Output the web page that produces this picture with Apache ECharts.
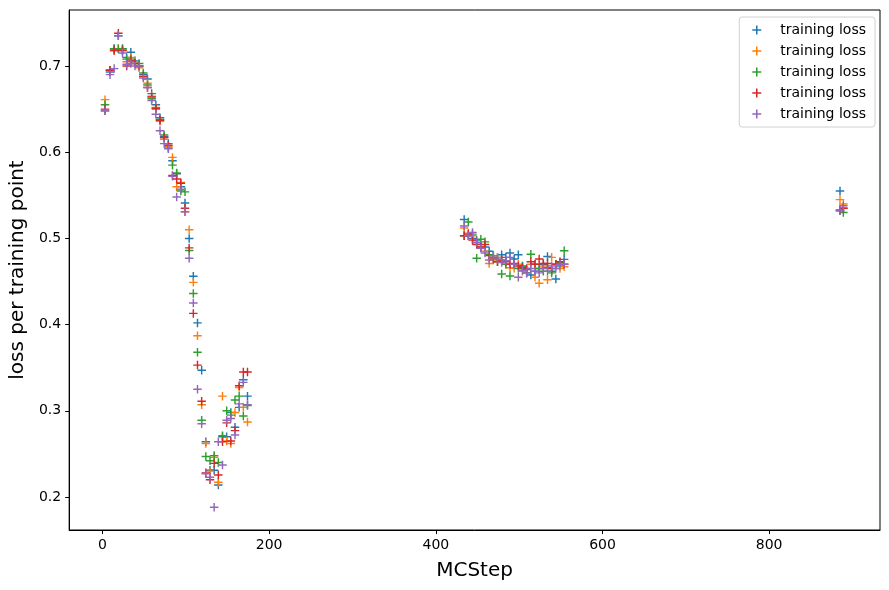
<!DOCTYPE html>
<html>
<head>
<meta charset="utf-8">
<script src="https://cdn.jsdelivr.net/npm/echarts@6/dist/echarts.min.js"></script>
<style>
  html, body { margin: 0; padding: 0; background: #fff; }
  #main { width: 889px; height: 590px; }
</style>
</head>
<body>
<div id="main"></div>
<script>
// MCStep values (three recorded stretches)
var steps = [
    3, 9, 14, 19, 24, 29, 34, 39, 44, 49, 54, 59, 64, 69, 74, 79, 84, 89, 94, 99,
    104, 109, 114, 119, 124, 129, 134, 139, 144, 149, 154, 159, 164, 169, 174,
    434, 439, 444, 449, 454, 459, 464, 469, 474, 479, 484, 489, 494, 499, 504,
    509, 514, 519, 524, 529, 534, 539, 544, 549, 554,
    885, 889
];
var lossBlue = [
    .648, .693, .72, .735, .72, .71, .716, .706, .70, .69, .685, .668, .655, .64, .618, .61, .59, .575, .56, .541,
    .50, .456, .402, .347, .264, .231, .231, .214, .27, .27, .298, .281, .304, .336, .317,
    .522, .503, .50, .498, .49, .49, .485, .48, .478, .481, .478, .483, .476, .481, .468,
    .465, .4575, .462, .465, .47, .479, .462, .453, .468, .4757,
    .555, .535
];
var lossOrange = [
    .661, .695, .718, .72, .718, .705, .71, .705, .698, .688, .68, .665, .652, .636, .615, .607, .594, .56, .565, .531,
    .51, .449, .387, .307, .262, .23, .246, .217, .317, .265, .262, .298, .327, .304, .287,
    .512, .506, .503, .495, .49, .485, .471, .475, .478, .474, .47, .466, .4653, .47, .462,
    .46, .47, .455, .448, .468, .452, .478, .47, .465, .4672,
    .545, .54
];
var lossGreen = [
    .655, .695, .72, .72, .72, .708, .708, .703, .703, .692, .678, .662, .65, .638, .62, .605, .585, .576, .555, .554,
    .486, .436, .368, .289, .247, .242, .248, .24, .271, .30, .295, .3125, .317, .294, .306,
    .503, .519, .505, .477, .499, .496, .481, .478, .473, .4587, .47, .4563, .47, .465, .467,
    .46, .4816, .47, .465, .462, .466, .46, .47, .472, .4857,
    .532, .53
];
var lossRed = [
    .65, .695, .718, .738, .718, .70, .706, .703, .70, .688, .675, .664, .651, .637, .617, .608, .573, .569, .564, .535,
    .489, .413, .353, .311, .228, .22, .239, .2255, .264, .286, .265, .277, .329, .345, .345,
    .503, .505, .498, .493, .49, .493, .48, .476, .473, .475, .473, .47, .471, .468, .466,
    .464, .473, .47, .476, .471, .471, .465, .47, .473, .47,
    .533, .535
];
var lossPurple = [
    .648, .69, .697, .735, .715, .702, .703, .70, .70, .686, .675, .66, .644, .625, .61, .604, .572, .548, .557, .531,
    .477, .425, .325, .285, .227, .223, .188, .264, .237, .289, .291, .272, .308, .333, .307,
    .5144, .503, .507, .4955, .4885, .483, .475, .48, .476, .472, .474, .478, .47, .455, .463,
    .46, .465, .462, .46, .465, .462, .468, .465, .47, .47,
    .532, .538
];
var xTicks = [0, 200, 400, 600, 800];
var yTicks = [0.2, 0.3, 0.4, 0.5, 0.6, 0.7];

var colors = ['#1f77b4', '#ff7f0e', '#2ca02c', '#d62728', '#9467bd'];
var allLoss = [lossBlue, lossOrange, lossGreen, lossRed, lossPurple];
var plus = 'path://M-0.17,-1H0.17V-0.17H1V0.17H0.17V1H-0.17V0.17H-1V-0.17H-0.17Z';

var series = [];
var legendNames = [];
for (var i = 0; i < allLoss.length; i++) {
    var pts = [];
    for (var j = 0; j < steps.length; j++) {
        pts.push([steps[j], allLoss[i][j]]);
    }
    legendNames.push('training loss ' + i);
    series.push({
        name: 'training loss ' + i,
        type: 'scatter',
        symbol: plus,
        symbolSize: 8.5,
        itemStyle: { color: colors[i], opacity: 1 },
        data: pts
    });
}

var myChart = echarts.init(document.getElementById('main'));
myChart.setOption({
    animation: false,
    grid: {
        left: 68, right: 9, top: 10, bottom: 60,
        show: true, borderColor: '#000', borderWidth: 1
    },
    xAxis: {
        type: 'value',
        min: -40, max: 933,
        name: 'MCStep',
        nameLocation: 'middle',
        nameGap: 31,
        nameTextStyle: { fontFamily: 'DejaVu Sans', fontSize: 20, color: '#000' },
        axisLine: { show: true, onZero: false, lineStyle: { color: '#000' } },
        axisTick: { show: true, length: 4, customValues: xTicks, lineStyle: { color: '#000' } },
        axisLabel: { customValues: xTicks, margin: 8, fontFamily: 'DejaVu Sans', fontSize: 14, color: '#000' },
        splitLine: { show: false }
    },
    yAxis: {
        type: 'value',
        min: 0.1617, max: 0.765,
        name: 'loss per training point',
        nameLocation: 'middle',
        nameGap: 39,
        nameTextStyle: { fontFamily: 'DejaVu Sans', fontSize: 20, color: '#000' },
        axisLine: { show: true, onZero: false, lineStyle: { color: '#000' } },
        axisTick: { show: true, length: 4, customValues: yTicks, lineStyle: { color: '#000' } },
        axisLabel: {
            customValues: yTicks, margin: 8, fontFamily: 'DejaVu Sans', fontSize: 14, color: '#000',
            formatter: function (v) { return v.toFixed(1); }
        },
        splitLine: { show: false }
    },
    legend: {
        orient: 'vertical',
        right: 14, top: 17,
        data: legendNames,
        icon: plus,
        itemWidth: 9, itemHeight: 9,
        itemGap: 7,
        padding: [6, 9, 6, 13],
        backgroundColor: 'rgba(255,255,255,0.8)',
        borderColor: '#d0d0d0', borderWidth: 1, borderRadius: 3,
        formatter: function () { return 'training loss'; },
        textStyle: { fontFamily: 'DejaVu Sans', fontSize: 14, color: '#000', padding: [0, 0, 0, 14] }
    },
    series: series
});
</script>
</body>
</html>
